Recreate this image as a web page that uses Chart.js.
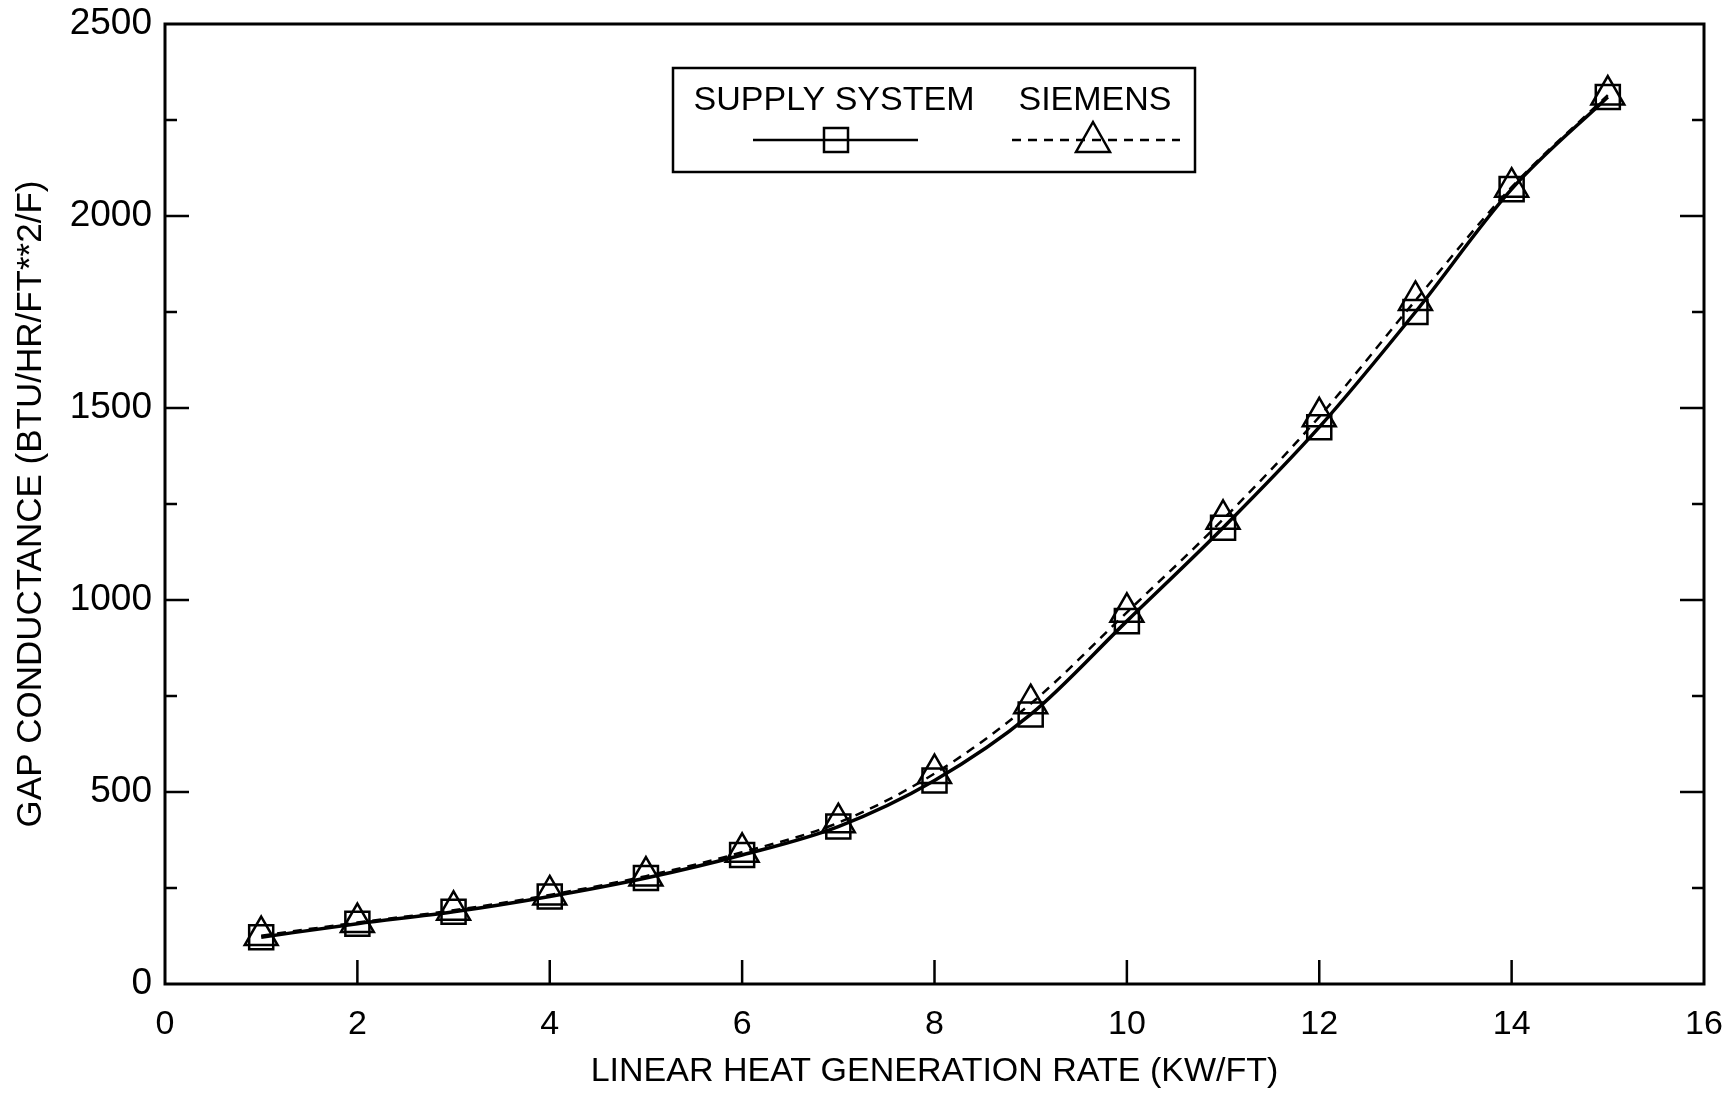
<!DOCTYPE html>
<html>
<head>
<meta charset="utf-8">
<title>Gap conductance</title>
<script src="https://cdn.jsdelivr.net/npm/chart.js@4.4.0/dist/chart.umd.min.js"></script>
<style>
  html, body { margin: 0; padding: 0; background: #fff; }
  #wrap { width: 1724px; height: 1095px; }
</style>
</head>
<body>
<div id="wrap"><canvas id="myChart" width="1724" height="1095"></canvas></div>
<script>
// values
const heatRates = [1, 2, 3, 4, 5, 6, 7, 8, 9, 10, 11, 12, 13, 14, 15];
const supplySystem = [122, 157, 188, 228, 276, 336, 410, 530, 702, 945, 1188, 1450, 1750, 2070, 2310];
const siemens = [126, 160, 192, 232, 281, 343, 420, 548, 730, 968, 1210, 1477, 1780, 2075, 2315];

const xTickMarks = [2, 4, 6, 8, 10, 12, 14];
const yMajorTicks = [500, 1000, 1500, 2000];
const yMinorTicks = [250, 750, 1250, 1750, 2250];

const seriesNames = ['SUPPLY SYSTEM', 'SIEMENS'];

Chart.defaults.font.family = "'Liberation Sans', Arial, sans-serif";
Chart.defaults.color = '#000';

function toPoints(values) {
  return heatRates.map((x, i) => ({ x: x, y: values[i] }));
}

// frame + inward tick marks like the original plot
const frameTicks = {
  id: 'frameTicks',
  beforeDatasetsDraw(chart) {
    const { ctx, chartArea: a } = chart;
    const xs = chart.scales.x;
    const ys = chart.scales.y;
    ctx.save();
    ctx.strokeStyle = '#000';
    ctx.lineWidth = 3;
    ctx.strokeRect(a.left, a.top, a.right - a.left, a.bottom - a.top);

    ctx.lineWidth = 2.5;
    ctx.beginPath();
    xTickMarks.forEach((v) => {
      const px = xs.getPixelForValue(v);
      ctx.moveTo(px, a.bottom);
      ctx.lineTo(px, a.bottom - 24);
    });
    yMajorTicks.forEach((v) => {
      const py = ys.getPixelForValue(v);
      ctx.moveTo(a.left, py);
      ctx.lineTo(a.left + 24, py);
      ctx.moveTo(a.right, py);
      ctx.lineTo(a.right - 24, py);
    });
    yMinorTicks.forEach((v) => {
      const py = ys.getPixelForValue(v);
      ctx.moveTo(a.left, py);
      ctx.lineTo(a.left + 12, py);
      ctx.moveTo(a.right, py);
      ctx.lineTo(a.right - 12, py);
    });
    ctx.stroke();
    ctx.restore();
  }
};

// boxed legend: names on top, line sample with marker underneath
const boxLegend = {
  id: 'boxLegend',
  afterDraw(chart) {
    const { ctx } = chart;
    ctx.save();
    ctx.fillStyle = '#fff';
    ctx.fillRect(673, 68, 522, 104);
    ctx.strokeStyle = '#000';
    ctx.lineWidth = 2.5;
    ctx.strokeRect(673, 68, 522, 104);

    ctx.fillStyle = '#000';
    ctx.font = "34px 'Liberation Sans', Arial, sans-serif";
    ctx.textAlign = 'center';
    ctx.textBaseline = 'middle';
    ctx.fillText(seriesNames[0], 834, 101);
    ctx.fillText(seriesNames[1], 1095, 101);

    // solid sample + square
    ctx.lineWidth = 2.5;
    ctx.beginPath();
    ctx.moveTo(753, 140);
    ctx.lineTo(918, 140);
    ctx.stroke();
    ctx.strokeRect(836 - 12, 140 - 12, 24, 24);

    // dashed sample + triangle
    ctx.setLineDash([9, 7]);
    ctx.beginPath();
    ctx.moveTo(1012, 140);
    ctx.lineTo(1180, 140);
    ctx.stroke();
    ctx.setLineDash([]);
    ctx.beginPath();
    ctx.moveTo(1093, 122);
    ctx.lineTo(1110, 152);
    ctx.lineTo(1076, 152);
    ctx.closePath();
    ctx.stroke();
    ctx.restore();
  }
};

function mainEvent() {
  const target = document.querySelector('#myChart');

  const data = {
    datasets: [
      {
        label: seriesNames[0],
        data: toPoints(supplySystem),
        borderColor: '#000',
        borderWidth: 3.5,
        cubicInterpolationMode: 'monotone',
        pointStyle: 'rect',
        pointRadius: 17,
        pointBorderWidth: 2.5,
        pointBorderColor: '#000',
        pointBackgroundColor: 'rgba(0,0,0,0)'
      },
      {
        label: seriesNames[1],
        data: toPoints(siemens),
        borderColor: '#000',
        borderWidth: 2.5,
        borderDash: [9, 7],
        cubicInterpolationMode: 'monotone',
        pointStyle: 'triangle',
        pointRadius: 19,
        pointBorderWidth: 2.5,
        pointBorderColor: '#000',
        pointBackgroundColor: 'rgba(0,0,0,0)'
      }
    ]
  };

  const config = {
    type: 'line',
    data: data,
    options: {
      responsive: false,
      animation: false,
      layout: { autoPadding: false, padding: { left: 0, top: 24, right: 20, bottom: 0 } },
      plugins: {
        legend: { display: false },
        tooltip: { enabled: false }
      },
      scales: {
        x: {
          type: 'linear',
          min: 0,
          max: 16,
          ticks: { stepSize: 2, padding: 20, font: { size: 34 } },
          grid: { display: false, drawTicks: false },
          border: { display: false },
          title: {
            display: true,
            text: 'LINEAR HEAT GENERATION RATE (KW/FT)',
            font: { size: 34 },
            padding: { top: 0, bottom: 3 }
          },
          afterFit: (scale) => {
            scale.height = 111;
            scale.paddingLeft = 0;
            scale.paddingRight = 0;
          }
        },
        y: {
          type: 'linear',
          min: 0,
          max: 2500,
          ticks: {
            stepSize: 500,
            padding: 13,
            font: { size: 37 },
            callback: (value) => String(value)
          },
          grid: { display: false, drawTicks: false },
          border: { display: false },
          title: {
            display: true,
            text: 'GAP CONDUCTANCE (BTU/HR/FT**2/F)',
            font: { size: 35 },
            padding: { top: 10, bottom: 0 }
          },
          afterFit: (scale) => {
            scale.width = 165;
            scale.paddingTop = 0;
            scale.paddingBottom = 0;
          }
        }
      }
    },
    plugins: [frameTicks, boxLegend]
  };

  return new Chart(target, config);
}

document.addEventListener('DOMContentLoaded', () => mainEvent());
</script>
</body>
</html>
